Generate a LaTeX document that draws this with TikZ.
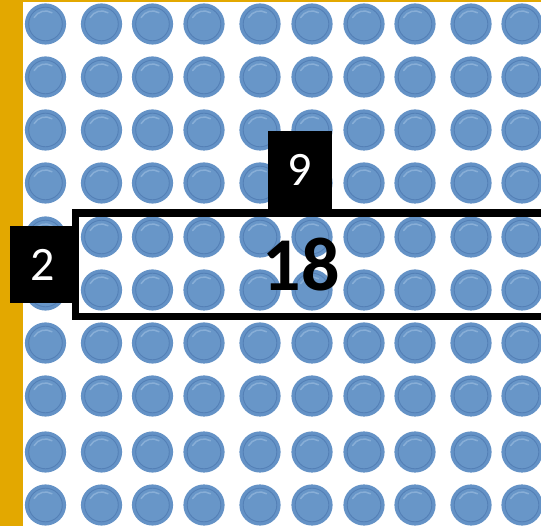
\documentclass[tikz,border=0pt]{standalone}
\usepackage{fontspec}
\setmainfont{Carlito}
\definecolor{gold}{RGB}{227,168,0}
\definecolor{discout}{RGB}{100,146,198}
\definecolor{discrim}{RGB}{84,128,182}
\definecolor{discin}{RGB}{104,150,200}
\definecolor{dischi}{RGB}{150,185,222}
\tikzset{
  numbox/.style={fill=black,text=white,inner sep=0pt,font=\fontsize{48}{50}\selectfont},
  bignum/.style={text=black,inner sep=0pt,font=\fontsize{76}{80}\selectfont\bfseries},
  frameline/.style={draw=black,line width=7.5pt}
}
\newcommand{\disc}[2]{%
  \fill[discout] (#1,#2) circle (20.6);
  \fill[discin] (#1,#2) circle (16.8);
  \draw[discrim,line width=0.9pt] (#1,#2) circle (16.8);
  \draw[dischi,line width=1.5pt,line cap=round,opacity=0.7] ([shift={(#1,#2)}]-150:13) arc (-150:-60:13);
}
\begin{document}
\begin{tikzpicture}[x=1pt,y=-1pt]
\useasboundingbox (0,0) rectangle (541,526);
\clip (0,0) rectangle (541,526);
\fill[white] (0,0) rectangle (541,526);
\fill[gold] (0,0) rectangle (541,2.5);
\fill[gold] (0,0) rectangle (23,526);
\foreach \cx in {45.5,101.5,152.5,204,260,312,364,415,471,522}{
  \foreach \cy in {24,77,130,183,237,290,343,396,452,505}{
    \disc{\cx}{\cy}
  }
}
\draw[frameline] (75.5,212.8) rectangle (570,316.4);
\node[numbox,minimum width=66pt,minimum height=77pt] (two) at (43,264.5) {2};
\node[numbox,minimum width=64pt,minimum height=78pt] (nine) at (300,170) {9};
\node[bignum] (prod) at (301.5,264.5) {18};
\end{tikzpicture}
\end{document}
